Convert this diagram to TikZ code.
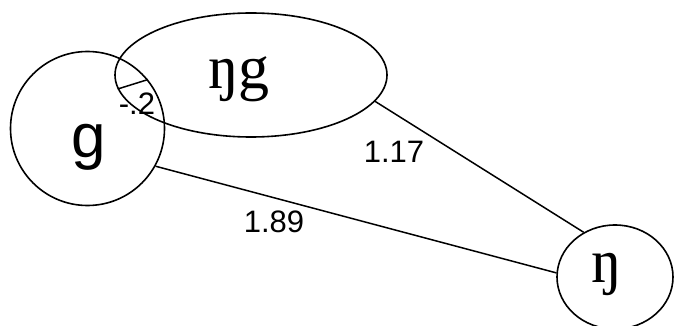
\documentclass[tikz,border=0pt]{standalone}
\usepackage{fontspec}
\setmainfont{Liberation Serif}
\newfontfamily\sansf{Liberation Sans}
\usetikzlibrary{shapes.geometric}
\tikzset{
  shp/.style={draw, line width=1.6pt, inner sep=0pt},
  edge/.style={line width=1.5pt},
  ipa/.style={inner sep=0pt, font=\fontsize{62}{64}\selectfont},
  sym/.style={inner sep=0pt, font=\sansf\fontsize{62}{64}\selectfont},
  num/.style={inner sep=0pt, font=\sansf\fontsize{31}{33}\selectfont}
}
\begin{document}
\begin{tikzpicture}[x=1pt,y=-1pt]
\useasboundingbox (0,0) rectangle (674,326);
\clip (0,0) rectangle (674,326);
\node[shp, ellipse, minimum width=272pt, minimum height=124pt] (ng) at (251,75) {};
\node[shp, circle, minimum size=154pt] (g) at (87.5,128.5) {};
\node[shp, ellipse, minimum width=116pt, minimum height=104pt] (n) at (615,277) {};
\node[ipa] (ngt) at (239,79) {ŋg};
\node[sym] (gt) at (89,147) {g};
\node[ipa] (nt) at (607,274) {ŋ};
\draw[edge] (ng.-12) -- (n.125);
\draw[edge] (g.-29) -- (n.176);
\draw[edge] (ng.186) -- (g.39);
\node[num] (l1) at (394,152) {1.17};
\node[num] (l2) at (274,222) {1.89};
\node[num] (l3) at (137,104) {-.2};
\end{tikzpicture}
\end{document}
